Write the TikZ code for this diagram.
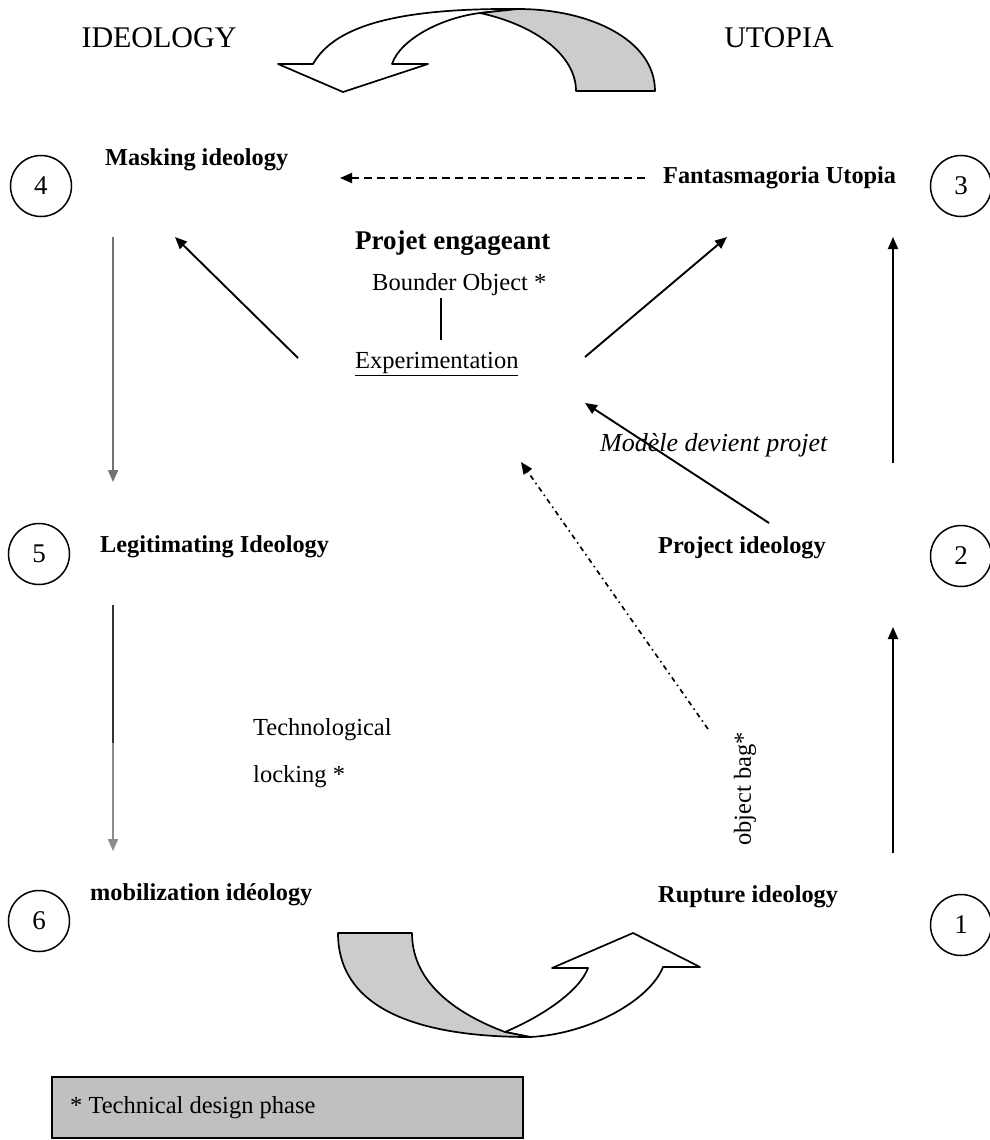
\documentclass[tikz,border=0pt]{standalone}
\usepackage{fontspec}
\setmainfont{Liberation Serif}
\usetikzlibrary{arrows.meta}
\definecolor{bandgray}{HTML}{CCCCCC}
\definecolor{boxgray}{HTML}{C0C0C0}
\tikzset{
  lbl/.style={anchor=west, inner sep=0pt, font=\fontsize{24.5}{28}\selectfont},
  blbl/.style={lbl, font=\fontsize{24.3}{28}\selectfont\bfseries},
  head/.style={inner sep=0pt, font=\fontsize{30}{34}\selectfont},
  numc/.style={circle, draw, line width=1.5pt, minimum size=61pt, inner sep=0pt, font=\fontsize{27}{30}\selectfont},
  arr/.style={line width=1.9pt, -{Triangle[length=12pt,width=10pt]}},
  band/.style={draw, line width=1.7pt, line join=round}
}
\begin{document}
\begin{tikzpicture}[x=1pt,y=-1pt]
\useasboundingbox (0,0) rectangle (989,1140);

% headings
\node[head] (ideo) at (159,38) {IDEOLOGY};
\node[head] (utop) at (779,38) {UTOPIA};

% top curved arrow
\path[band, fill=white] (480,13) .. controls (440,18) and (400,40) .. (392,64)
  -- (428,64) -- (343,92) -- (278,64) -- (313,64)
  .. controls (335,25) and (400,8) .. (518,9) -- cycle;
\path[band, fill=bandgray] (655,91) .. controls (655,40) and (590,9) .. (518,9)
  -- (480,13) .. controls (535,25) and (576,55) .. (576,91) -- cycle;

% bottom curved arrow
\path[band, fill=white] (505,1032) .. controls (545,1015) and (580,990) .. (588,968)
  -- (552,968) -- (633,933) -- (700,967) -- (663,967)
  .. controls (650,1000) and (590,1034) .. (530,1037) -- cycle;
\path[band, fill=bandgray] (338,933) .. controls (338,1005) and (410,1037) .. (530,1037)
  -- (505,1032) .. controls (460,1015) and (412,985) .. (412,933) -- cycle;

% number circles
\node[numc] (c4) at (41,186) {4};
\node[numc] (c3) at (961,186) {3};
\node[numc] (c5) at (39,554) {5};
\node[numc] (c2) at (961,556) {2};
\node[numc] (c6) at (39,921) {6};
\node[numc] (c1) at (961,925) {1};

% labels
\node[blbl] (mask) at (105,160) {Masking ideology};
\node[blbl] (fant) at (663,178) {Fantasmagoria Utopia};
\node[lbl, font=\fontsize{27}{30}\selectfont\bfseries] (proj) at (355,243) {Projet engageant};
\node[lbl] (bound) at (372,285) {Bounder Object *};
\node[lbl] (exper) at (355,364) {\underline{Experimentation}};
\node[lbl, font=\fontsize{26}{30}\selectfont\itshape] (model) at (600,445) {Modèle devient projet};
\node[blbl] (legit) at (100,547) {Legitimating Ideology};
\node[blbl] (projid) at (658,548) {Project ideology};
\node[lbl] (techn) at (253,730) {Technological};
\node[lbl] (lock) at (253,777) {locking *};
\node[blbl] (mobil) at (90,895) {mobilization idéology};
\node[blbl] (rupt) at (658,897) {Rupture ideology};
\node[inner sep=0pt, rotate=90, font=\fontsize{24.5}{28}\selectfont] (bag) at (745,789) {object bag*};

% legend box
\node[draw, line width=1.8pt, fill=boxgray, minimum width=471pt, minimum height=61pt, inner sep=0pt] (legend) at (287.5,1107.5) {};
\node[lbl] (legtxt) at (70,1108) {* Technical design phase};

% connector end points
\coordinate (fantL) at (645,178);
\coordinate (maskR) at (340,178);
\coordinate (bo1) at (441,298);
\coordinate (ex1) at (441,340);
\coordinate (exUL) at (298,358);
\coordinate (maskA) at (175,237);
\coordinate (exUR) at (585,357);
\coordinate (fantA) at (727,237);
\coordinate (r2top) at (893,463);
\coordinate (r3bot) at (893,237);
\coordinate (pjL) at (769,523);
\coordinate (exR) at (585,403);
\coordinate (bagT) at (708,729);
\coordinate (exB) at (521,462);
\coordinate (r1top) at (893,853);
\coordinate (r2bot) at (893,627);
\coordinate (l4bot) at (113,237);
\coordinate (l5top) at (113,482);
\coordinate (l5bot) at (113,605);
\coordinate (lmid) at (113,743);
\coordinate (l6top) at (113,851);

% connectors
\draw[arr, dash pattern=on 8pt off 5pt] (fantL) -- (maskR);
\draw[line width=1.7pt] (bo1) -- (ex1);
\draw[arr] (exUL) -- (maskA);
\draw[arr] (exUR) -- (fantA);
\draw[arr] (r2top) -- (r3bot);
\draw[arr] (pjL) -- (exR);
\draw[arr, line width=1.7pt, dash pattern=on 5pt off 4pt on 1.5pt off 4pt] (bagT) -- (exB);
\draw[arr] (r1top) -- (r2bot);
\draw[arr, draw=black!55] (l4bot) -- (l5top);
\draw[line width=2pt, black!80] (l5bot) -- (lmid);
\draw[arr, draw=black!45] (lmid) -- (l6top);
\end{tikzpicture}
\end{document}
